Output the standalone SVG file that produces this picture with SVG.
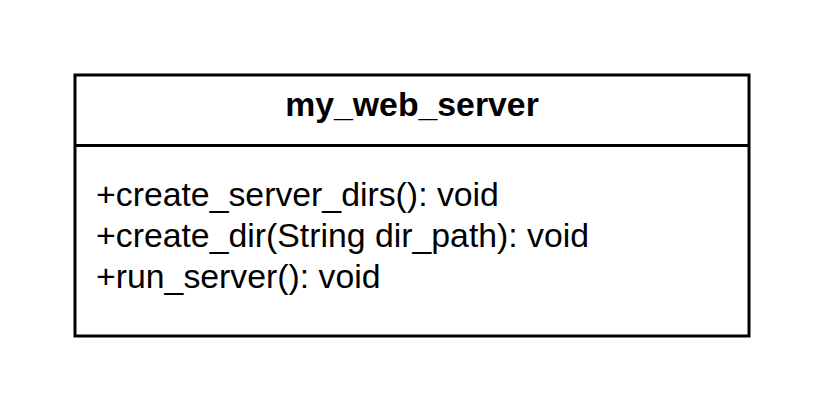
<svg xmlns="http://www.w3.org/2000/svg" width="825" height="413" viewBox="0 0 825 413">
<style>
.box{fill:#fff;stroke:#000;stroke-width:3}
.t{font-family:"Liberation Sans",Arial,sans-serif;font-size:33.8px;fill:#000}
.b{font-weight:bold}
</style>
<rect width="825" height="413" fill="#fff"/>
<g id="my_web_server">
<rect class="box" x="75" y="75" width="674" height="261"/>
<line x1="75" y1="145.5" x2="749" y2="145.5" stroke="#000" stroke-width="3"/>
<text class="t b" x="412" y="116" text-anchor="middle">my_web_server</text>
<text class="t" x="96" y="206">+create_server_dirs(): void</text>
<text class="t" x="96" y="246.8">+create_dir(String dir_path): void</text>
<text class="t" x="96" y="287.6">+run_server(): void</text>
</g>
<g id="connectors"></g>
</svg>
